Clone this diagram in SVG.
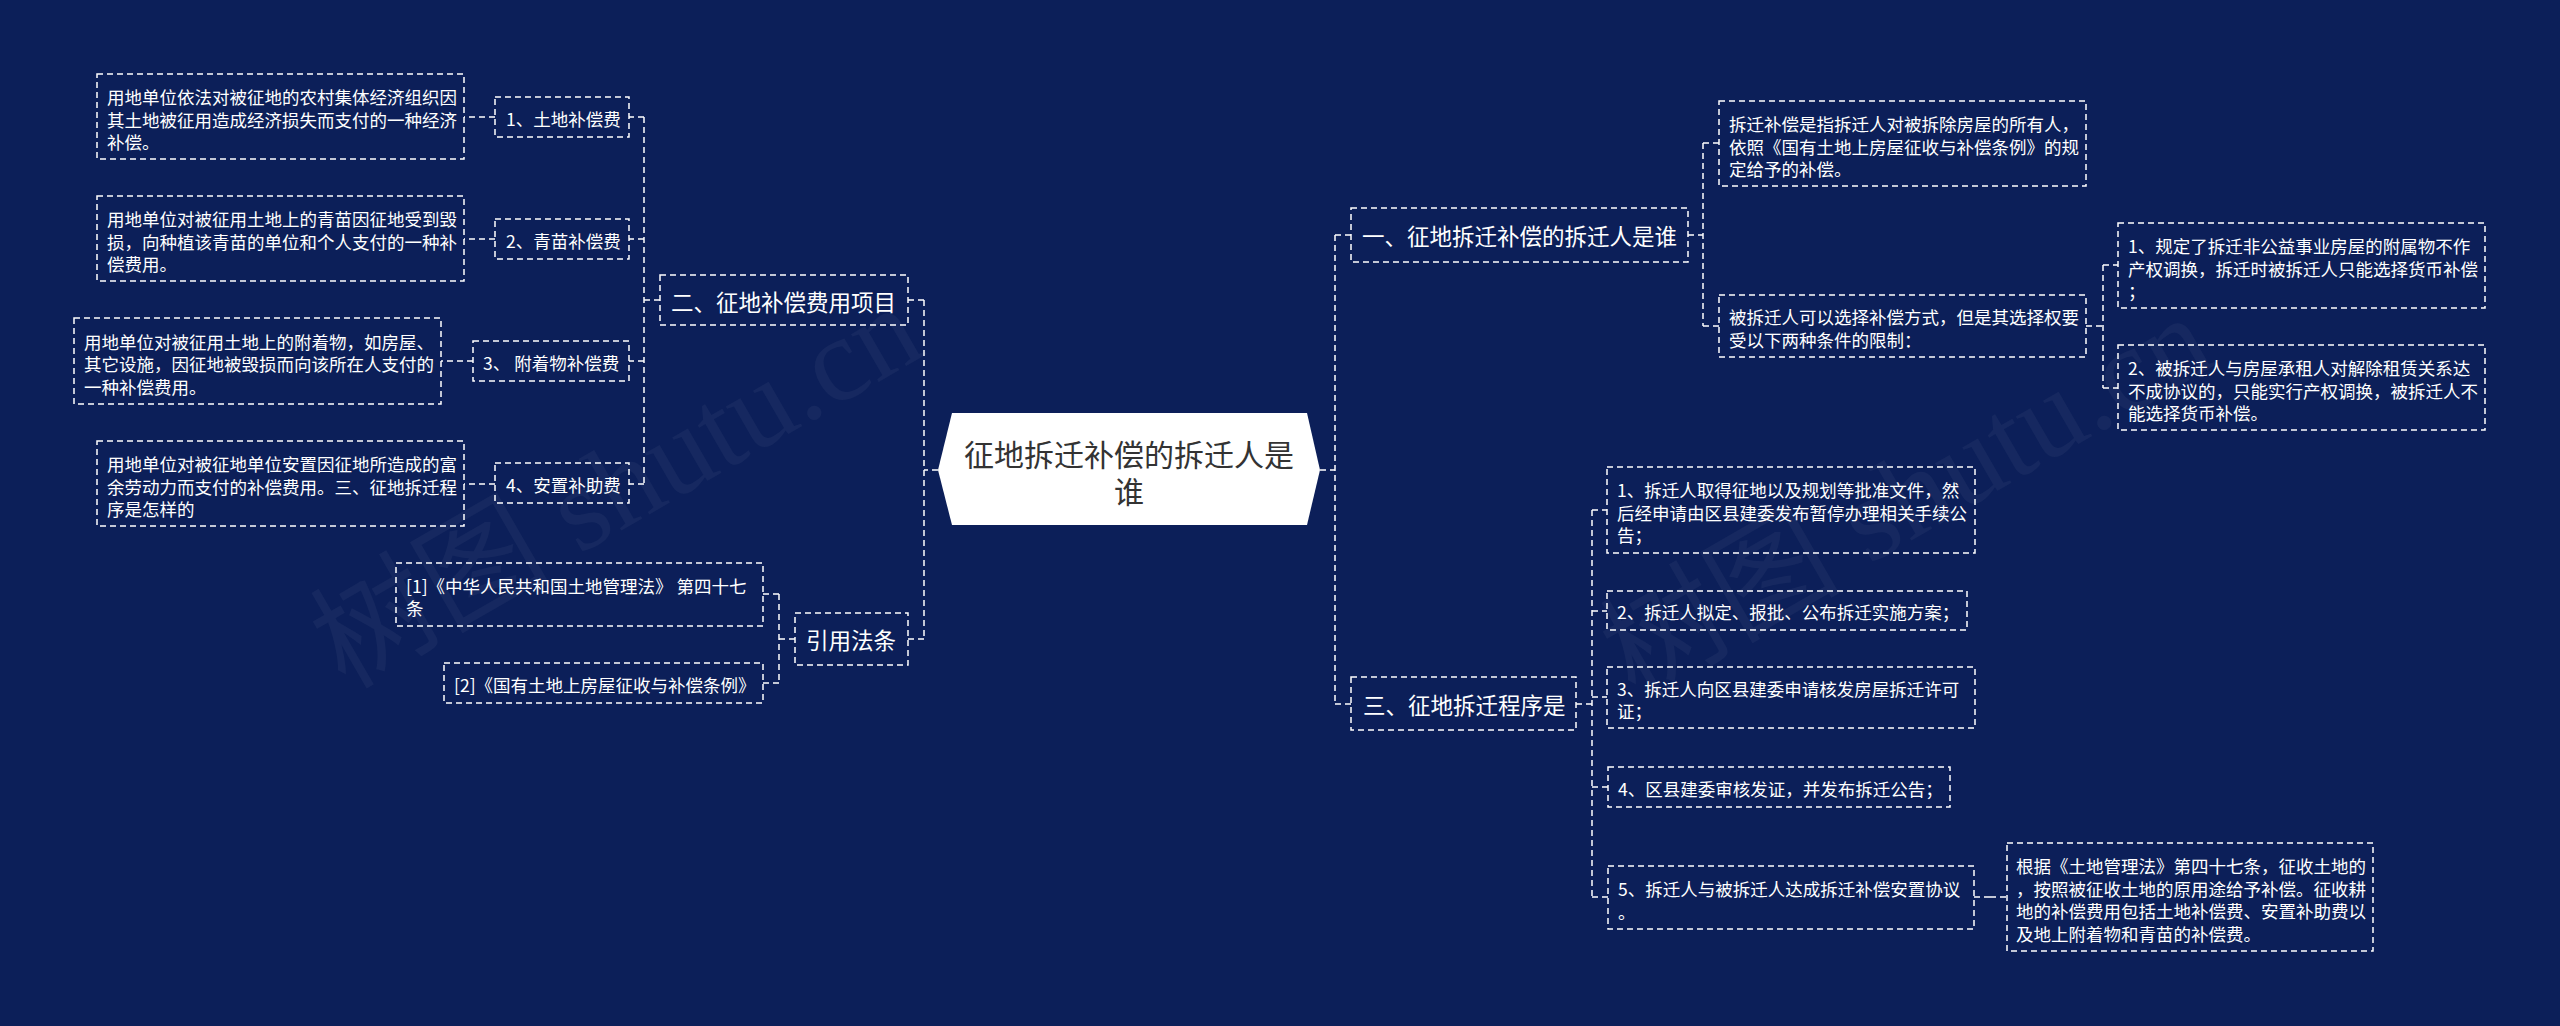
<svg xmlns="http://www.w3.org/2000/svg" width="2560" height="1026" viewBox="0 0 2560 1026">
<style>
.bg{fill:#0c1f59}
.t{font-family:"Noto Sans CJK SC","Liberation Sans",sans-serif;fill:#ffffff;dominant-baseline:central}
.s{font-size:17.5px}
.m{font-size:22.5px}
.box{fill:none;stroke:#ffffff;stroke-width:1.5;stroke-dasharray:6 4}
.ln{fill:none;stroke:#ffffff;stroke-width:1.5;stroke-dasharray:6 4}
.wm{font-family:"Liberation Serif","Noto Sans CJK SC",serif;font-size:120px;fill:#ffffff;fill-opacity:0.045}
</style>
<rect class="bg" x="0" y="0" width="2560" height="1026"/>
<g id="watermark">
<text class="wm" transform="translate(345,690) rotate(-30)">树图 shutu.cn</text>
<text class="wm" transform="translate(1635,700) rotate(-30)">树图 shutu.cn</text>
</g>
<g id="connectors">
<path class="ln" d="M938,470 H924 M924,300 V639 M924,300 H908 M924,639 H908"/>
<path class="ln" d="M1320,470 H1335 M1335,235 V704 M1335,235 H1351 M1335,704 H1351"/>
<path class="ln" d="M660,300 H644 M644,117 V484 M644,117 H629 M644,239 H629 M644,361 H629 M644,484 H629"/>
<path class="ln" d="M495,117 H464 M495,239 H464 M473,361 H441 M495,484 H464"/>
<path class="ln" d="M795,639 H779 M779,594 V683 M779,594 H763 M779,683 H763"/>
<path class="ln" d="M1688,235 H1703 M1703,143 V326 M1703,143 H1719 M1703,326 H1719"/>
<path class="ln" d="M2086,326 H2103 M2103,265 V388 M2103,265 H2118 M2103,388 H2118"/>
<path class="ln" d="M1576,704 H1592 M1592,510 V897 M1592,510 H1607 M1592,611 H1607 M1592,697 H1607 M1592,787 H1608 M1592,897 H1608"/>
<path class="ln" d="M1974,897 H1990 M1990,897 H2007"/>
</g>
<g id="root">
<polygon points="952,413 1307,413 1320,470 1307,525 952,525 938,470" fill="#ffffff"/>
<text class="t" style="font-size:30px;fill:#333333" text-anchor="middle"><tspan x="1129" y="453">征地拆迁补偿的拆迁人是</tspan><tspan x="1129" y="490">谁</tspan></text>
</g>
<g id="n-er">
<rect class="box" x="660" y="275" width="248" height="50"/>
<text class="t m" x="671" y="301">二、征地补偿费用项目</text>
</g>
<g id="n-yinyong">
<rect class="box" x="795" y="613" width="113" height="52"/>
<text class="t m" x="806" y="639">引用法条</text>
</g>
<g id="n-c1">
<rect class="box" x="495" y="97" width="134" height="40"/>
<text class="t s" x="506" y="118">1、土地补偿费</text>
</g>
<g id="n-c2">
<rect class="box" x="495" y="219" width="134" height="40"/>
<text class="t s" x="506" y="240">2、青苗补偿费</text>
</g>
<g id="n-c3">
<rect class="box" x="473" y="341" width="156" height="40"/>
<text class="t s" x="483" y="362">3、 附着物补偿费</text>
</g>
<g id="n-c4">
<rect class="box" x="495" y="463" width="134" height="40"/>
<text class="t s" x="506" y="484">4、安置补助费</text>
</g>
<g id="n-l1">
<rect class="box" x="97" y="74" width="367" height="85"/>
<text class="t s"><tspan x="107" y="96">用地单位依法对被征地的农村集体经济组织因</tspan><tspan x="107" y="118.5">其土地被征用造成经济损失而支付的一种经济</tspan><tspan x="107" y="141">补偿。</tspan></text>
</g>
<g id="n-l2">
<rect class="box" x="97" y="196" width="367" height="85"/>
<text class="t s"><tspan x="107" y="218">用地单位对被征用土地上的青苗因征地受到毁</tspan><tspan x="107" y="240.5">损，向种植该青苗的单位和个人支付的一种补</tspan><tspan x="107" y="263">偿费用。</tspan></text>
</g>
<g id="n-l3">
<rect class="box" x="74" y="318" width="367" height="86"/>
<text class="t s"><tspan x="84" y="340.5">用地单位对被征用土地上的附着物，如房屋、</tspan><tspan x="84" y="363">其它设施，因征地被毁损而向该所在人支付的</tspan><tspan x="84" y="385.5">一种补偿费用。</tspan></text>
</g>
<g id="n-l4">
<rect class="box" x="97" y="441" width="367" height="85"/>
<text class="t s"><tspan x="107" y="463">用地单位对被征地单位安置因征地所造成的富</tspan><tspan x="107" y="485.5">余劳动力而支付的补偿费用。三、征地拆迁程</tspan><tspan x="107" y="508">序是怎样的</tspan></text>
</g>
<g id="n-ref1">
<rect class="box" x="396" y="563" width="367" height="63"/>
<text class="t s"><tspan x="406" y="585">[1]《中华人民共和国土地管理法》 第四十七</tspan><tspan x="406" y="607">条</tspan></text>
</g>
<g id="n-ref2">
<rect class="box" x="444" y="663" width="319" height="40"/>
<text class="t s" x="454" y="684">[2]《国有土地上房屋征收与补偿条例》</text>
</g>
<g id="n-yi">
<rect class="box" x="1351" y="208" width="337" height="54"/>
<text class="t m" x="1362" y="235">一、征地拆迁补偿的拆迁人是谁</text>
</g>
<g id="n-san">
<rect class="box" x="1351" y="677" width="225" height="53"/>
<text class="t m" x="1363" y="704">三、征地拆迁程序是</text>
</g>
<g id="n-r1">
<rect class="box" x="1719" y="101" width="367" height="85"/>
<text class="t s"><tspan x="1729" y="123">拆迁补偿是指拆迁人对被拆除房屋的所有人，</tspan><tspan x="1729" y="145.5">依照《国有土地上房屋征收与补偿条例》的规</tspan><tspan x="1729" y="168">定给予的补偿。</tspan></text>
</g>
<g id="n-r2">
<rect class="box" x="1719" y="295" width="367" height="62"/>
<text class="t s"><tspan x="1729" y="316">被拆迁人可以选择补偿方式，但是其选择权要</tspan><tspan x="1729" y="338.5">受以下两种条件的限制：</tspan></text>
</g>
<g id="n-r2a">
<rect class="box" x="2118" y="223" width="367" height="85"/>
<text class="t s"><tspan x="2128" y="245">1、规定了拆迁非公益事业房屋的附属物不作</tspan><tspan x="2128" y="267.5">产权调换，拆迁时被拆迁人只能选择货币补偿</tspan><tspan x="2128" y="290">；</tspan></text>
</g>
<g id="n-r2b">
<rect class="box" x="2118" y="345" width="367" height="85"/>
<text class="t s"><tspan x="2128" y="367">2、被拆迁人与房屋承租人对解除租赁关系达</tspan><tspan x="2128" y="389.5">不成协议的，只能实行产权调换，被拆迁人不</tspan><tspan x="2128" y="412">能选择货币补偿。</tspan></text>
</g>
<g id="n-s1">
<rect class="box" x="1607" y="467" width="368" height="86"/>
<text class="t s"><tspan x="1617" y="489">1、拆迁人取得征地以及规划等批准文件，然</tspan><tspan x="1617" y="511.5">后经申请由区县建委发布暂停办理相关手续公</tspan><tspan x="1617" y="534">告；</tspan></text>
</g>
<g id="n-s2">
<rect class="box" x="1607" y="591" width="360" height="39"/>
<text class="t s" x="1617" y="611">2、拆迁人拟定、报批、公布拆迁实施方案；</text>
</g>
<g id="n-s3">
<rect class="box" x="1607" y="667" width="368" height="61"/>
<text class="t s"><tspan x="1617" y="687.5">3、拆迁人向区县建委申请核发房屋拆迁许可</tspan><tspan x="1617" y="710">证；</tspan></text>
</g>
<g id="n-s4">
<rect class="box" x="1608" y="767" width="342" height="40"/>
<text class="t s" x="1618" y="788">4、区县建委审核发证，并发布拆迁公告；</text>
</g>
<g id="n-s5">
<rect class="box" x="1608" y="866" width="366" height="63"/>
<text class="t s"><tspan x="1618" y="888">5、拆迁人与被拆迁人达成拆迁补偿安置协议</tspan><tspan x="1618" y="910.5">。</tspan></text>
</g>
<g id="n-s5a">
<rect class="box" x="2007" y="843" width="366" height="108"/>
<text class="t s"><tspan x="2016" y="865">根据《土地管理法》第四十七条，征收土地的</tspan><tspan x="2016" y="887.5">，按照被征收土地的原用途给予补偿。征收耕</tspan><tspan x="2016" y="910">地的补偿费用包括土地补偿费、安置补助费以</tspan><tspan x="2016" y="932.5">及地上附着物和青苗的补偿费。</tspan></text>
</g>
</svg>
